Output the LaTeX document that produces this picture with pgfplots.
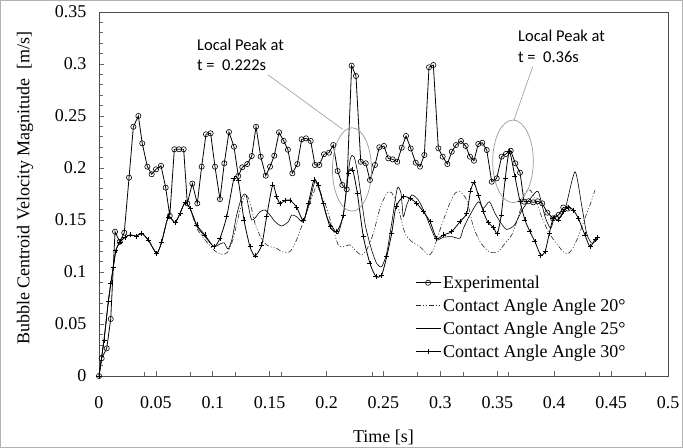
\documentclass[border=0pt]{standalone}
\usepackage{pgfplots}
\pgfplotsset{compat=1.18}
\usepackage{fontspec}
\setmainfont{Liberation Serif}
\newfontfamily\calibri{Carlito}
\usetikzlibrary{calc}

\pgfplotstableread{
t v
0 0
0.0023 0.017
0.0068 0.0266
0.0103 0.0548
0.0141 0.1388
0.0182 0.129
0.0222 0.1378
0.0264 0.1907
0.0302 0.2397
0.0346 0.25
0.038 0.2237
0.0425 0.2013
0.0463 0.194
0.0501 0.1987
0.0545 0.2022
0.0586 0.1811
0.0622 0.154
0.0662 0.218
0.0703 0.218
0.0744 0.218
0.0776 0.166
0.082 0.185
0.0864 0.166
0.0902 0.2013
0.094 0.2324
0.0981 0.2333
0.1019 0.2013
0.1063 0.170
0.1101 0.2045
0.1142 0.2346
0.1186 0.2205
0.1224 0.1923
0.1259 0.2007
0.1303 0.2038
0.1342 0.2115
0.138 0.2397
0.1421 0.2109
0.1465 0.1926
0.1503 0.2013
0.154 0.2118
0.1582 0.2343
0.1623 0.226
0.166 0.2176
0.1699 0.1949
0.1743 0.2038
0.1781 0.2276
0.1819 0.2285
0.186 0.226
0.1898 0.2029
0.1936 0.2029
0.1977 0.2132
0.2021 0.2147
0.2059 0.2221
0.2097 0.1971
0.2138 0.1837
0.2177 0.1795
0.222 0.2984
0.2258 0.2885
0.23 0.206
0.2344 0.2045
0.2381 0.1885
0.2425 0.2029
0.2463 0.2199
0.2504 0.2212
0.2542 0.2093
0.2581 0.2083
0.2621 0.206
0.266 0.2195
0.2698 0.2308
0.2739 0.2189
0.2783 0.2051
0.2821 0.2013
0.2859 0.2125
0.29 0.2968
0.2938 0.299
0.2982 0.2189
0.302 0.2109
0.3061 0.2038
0.31 0.2157
0.3137 0.2221
0.3181 0.226
0.3222 0.2212
0.326 0.2109
0.3295 0.207
0.3333 0.2231
0.3368 0.2243
0.3407 0.2173
0.3451 0.1868
0.3495 0.19
0.3538 0.2109
0.3576 0.2135
0.3618 0.2166
0.3658 0.2045
0.37 0.1955
0.3735 0.1676
0.3775 0.168
0.3815 0.167
0.3855 0.168
0.3895 0.166
0.394 0.157
0.399 0.1516
0.404 0.155
0.408 0.162
0.412 0.161
}\exptable

\pgfplotstableread{
t v
0 0
0.0044 0.0346
0.0082 0.0714
0.0126 0.105
0.0149 0.121
0.0185 0.129
0.0228 0.1333
0.0272 0.1356
0.0331 0.1346
0.0375 0.1372
0.0433 0.1308
0.0507 0.118
0.0551 0.129
0.0609 0.153
0.0668 0.1474
0.0712 0.1564
0.0756 0.1667
0.08 0.1612
0.0859 0.142
0.0931 0.131
0.101 0.121
0.1078 0.117
0.113 0.119
0.118 0.132
0.1235 0.158
0.1283 0.174
0.1325 0.168
0.1375 0.145
0.1444 0.129
0.1503 0.1243
0.1561 0.1228
0.1605 0.1196
0.1678 0.1196
0.1737 0.131
0.1796 0.1484
0.1854 0.166
0.1913 0.182
0.1986 0.166
0.2059 0.1404
0.2103 0.126
0.2147 0.1243
0.2206 0.126
0.2264 0.1196
0.2308 0.1163
0.2352 0.1212
0.2411 0.1372
0.2469 0.1612
0.2528 0.1757
0.2572 0.1763
0.263 0.1612
0.2689 0.1372
0.2748 0.1292
0.2821 0.1243
0.2894 0.1163
0.2938 0.1212
0.2996 0.1404
0.307 0.1628
0.3128 0.1757
0.3172 0.1772
0.3231 0.1692
0.3289 0.1436
0.3348 0.1292
0.3407 0.1212
0.3451 0.1186
0.3509 0.1196
0.3568 0.1276
0.3626 0.1356
0.3685 0.1532
0.3743 0.1757
0.3787 0.1788
0.3831 0.1708
0.389 0.1532
0.3948 0.1388
0.4007 0.1292
0.4066 0.1212
0.411 0.1173
0.4154 0.1212
0.4212 0.134
0.427 0.1516
0.4315 0.1644
0.4359 0.1788
}\angtwenty

\pgfplotstableread{
t v
0 0
0.0044 0.0346
0.0082 0.0714
0.0126 0.105
0.0149 0.121
0.0185 0.129
0.0228 0.1333
0.0272 0.1356
0.0331 0.1346
0.0375 0.1372
0.0433 0.1308
0.0507 0.118
0.0551 0.129
0.0609 0.153
0.0668 0.1474
0.0712 0.1564
0.0756 0.1667
0.08 0.1612
0.0859 0.144
0.0931 0.134
0.101 0.1243
0.1063 0.127
0.11 0.128
0.1135 0.122
0.117 0.132
0.121 0.155
0.1255 0.172
0.1292 0.174
0.1342 0.15
0.1415 0.158
0.1459 0.1596
0.1503 0.1548
0.1547 0.1484
0.1605 0.1442
0.1664 0.1484
0.1693 0.1548
0.1737 0.1532
0.1796 0.1484
0.1854 0.1692
0.1898 0.1868
0.1942 0.1772
0.2001 0.1532
0.2059 0.142
0.2103 0.1372
0.2153 0.1596
0.2206 0.2077
0.2241 0.2109
0.2279 0.1917
0.2337 0.1468
0.2396 0.1212
0.244 0.1083
0.2484 0.1051
0.2528 0.118
0.2572 0.1468
0.2621 0.1804
0.2654 0.1757
0.2674 0.1532
0.2704 0.1644
0.2748 0.174
0.2806 0.1692
0.2865 0.1564
0.2923 0.1404
0.2967 0.1308
0.3026 0.1334
0.3099 0.134
0.3172 0.1324
0.3202 0.142
0.326 0.1548
0.3333 0.1676
0.3377 0.1612
0.343 0.1676
0.348 0.1564
0.3524 0.1484
0.358 0.141
0.365 0.145
0.372 0.16
0.38 0.172
0.386 0.1772
0.392 0.153
0.397 0.142
0.4007 0.1548
0.405 0.152
0.41 0.162
0.4183 0.1964
0.424 0.165
0.4285 0.1372
0.433 0.1276
0.4375 0.131
}\angtwentyfive

\pgfplotstableread{
t v
0 0
0.0044 0.0346
0.0082 0.0714
0.0103 0.089
0.0126 0.105
0.0149 0.121
0.0185 0.129
0.0228 0.1333
0.0272 0.1356
0.0331 0.1346
0.0375 0.1372
0.0433 0.1308
0.0507 0.118
0.0551 0.129
0.0609 0.153
0.0668 0.1474
0.0712 0.1564
0.0756 0.1667
0.08 0.1612
0.0859 0.1452
0.0931 0.1356
0.101 0.1243
0.1063 0.1324
0.1122 0.1532
0.1186 0.19
0.1224 0.1878
0.1274 0.15
0.1327 0.1243
0.1371 0.1154
0.143 0.126
0.1473 0.1532
0.1526 0.1837
0.1561 0.1724
0.159 0.166
0.1634 0.1686
0.1678 0.1692
0.1737 0.1622
0.1796 0.1493
0.1839 0.166
0.1889 0.1885
0.1927 0.1837
0.1971 0.166
0.203 0.1436
0.2089 0.1388
0.2147 0.1548
0.2191 0.1949
0.2229 0.1981
0.227 0.1757
0.2323 0.1339
0.2381 0.1083
0.2434 0.0955
0.2484 0.0971
0.2528 0.1147
0.2572 0.1372
0.261 0.1628
0.2674 0.1724
0.2733 0.1708
0.2792 0.166
0.285 0.158
0.2909 0.1484
0.2967 0.1324
0.3026 0.1356
0.3099 0.1388
0.3172 0.1484
0.3231 0.1564
0.3265 0.178
0.3295 0.1859
0.3333 0.174
0.3377 0.158
0.342 0.1474
0.3465 0.143
0.35 0.137
0.3535 0.155
0.357 0.19
0.3606 0.2157
0.3655 0.1917
0.37 0.1676
0.3743 0.15
0.3787 0.1388
0.3831 0.1292
0.3881 0.1163
0.392 0.1196
0.3957 0.1372
0.3992 0.1516
0.4036 0.15
0.408 0.158
0.4124 0.1622
0.4168 0.1596
0.4212 0.1516
0.427 0.1356
0.4315 0.1243
0.4359 0.1314
0.4382 0.1334
}\angthirty

\begin{document}
\begin{tikzpicture}
\begin{axis}[
  scale only axis, width=569bp, height=364bp,
  xmin=0, xmax=0.5, ymin=0, ymax=0.35,
  xtick={0,0.05,0.1,0.15,0.2,0.25,0.3,0.35,0.4,0.45,0.5},
  xticklabels={0,0.05,0.1,0.15,0.2,0.25,0.3,0.35,0.4,0.45,0.5},
  minor xtick={0.04,0.08,0.12,0.16,0.2,0.24,0.28,0.32,0.36,0.4,0.44,0.48},
  ytick={0,0.05,0.1,0.15,0.2,0.25,0.3,0.35},
  yticklabels={0,0.05,0.1,0.15,0.2,0.25,0.3,0.35},
  minor y tick num=4,
  tick pos=left, tick align=inside,
  major tick length=5bp, minor tick length=4bp,
  tick style={black!60, line width=0.6pt},
  axis line style={black!70, line width=0.9pt},
  tick label style={font=\fontsize{18bp}{21bp}\selectfont},
  xticklabel style={yshift=-17bp},
  yticklabel style={xshift=-9bp},
  label style={font=\fontsize{18bp}{21bp}\selectfont},
  xlabel={Time [s]},
  ylabel={Bubble Centroid Velocity Magnitude\ \ [m/s]},
  x label style={at={(axis description cs:0.5,0)}, anchor=center, yshift=-61bp},
  y label style={at={(axis description cs:0,0.516)}, anchor=center, yshift=74bp},
  legend style={at={(axis cs:0.2777,0.0985)}, anchor=north west, draw=none,
    fill=none, inner sep=0pt, row sep=5bp,
    font=\fontsize{18bp}{21bp}\selectfont},
  legend cell align=left,
  legend image code/.code={\draw[mark repeat=2,mark phase=2]
    plot coordinates {(0bp,0bp)(12.5bp,0bp)(25bp,0bp)};},
]
\addplot[black, line width=0.8pt, mark=o, mark size=2.6bp,
  mark options={line width=0.6pt}] table {\exptable};
\addlegendentry{Experimental}
\addplot[black!85, line width=0.6pt, smooth, tension=0.4,
  dash pattern=on 5bp off 2bp on 1bp off 2bp on 1bp off 2bp] table {\angtwenty};
\addlegendentry{Contact Angle Angle 20°}
\addplot[black, line width=0.6pt, smooth, tension=0.4] table {\angtwentyfive};
\addlegendentry{Contact Angle Angle 25°}
\addplot[black, line width=0.8pt, smooth, tension=0.4, mark=+, mark size=2.5bp,
  mark options={line width=0.5pt}] table {\angthirty};
\addlegendentry{Contact Angle Angle 30°}

% callouts
\draw[black!40, line width=0.7pt] (axis cs:0.2223,0.1986) ellipse [x radius=19.5bp, y radius=41.7bp];
\draw[black!40, line width=0.7pt] (axis cs:0.3638,0.2064) ellipse [x radius=20.3bp, y radius=41.3bp];
\draw[black!40, line width=0.6pt] (axis cs:0.1487,0.2894) -- (axis cs:0.2141,0.2372);
\draw[black!40, line width=0.6pt] (axis cs:0.3811,0.2974) -- (axis cs:0.3647,0.2462);
\node[anchor=base west, inner sep=0pt, font=\calibri\fontsize{16.5bp}{20bp}\selectfont]
  at (axis cs:0.0861,0.3125) {Local Peak at};
\node[anchor=base west, inner sep=0pt, font=\calibri\fontsize{16.5bp}{20bp}\selectfont]
  at (axis cs:0.0861,0.2933) {t =\ \ 0.222s};
\node[anchor=base west, inner sep=0pt, font=\calibri\fontsize{16.5bp}{20bp}\selectfont]
  at (axis cs:0.3682,0.3214) {Local Peak at};
\node[anchor=base west, inner sep=0pt, font=\calibri\fontsize{16.5bp}{20bp}\selectfont]
  at (axis cs:0.3682,0.3019) {t =\ \ 0.36s};
\coordinate (O) at (rel axis cs:0,0);
\end{axis}
\draw[black!30, line width=1bp] ($(O)+(-98.5bp,-71.5bp)$) rectangle ($(O)+(583.5bp,375.5bp)$);
\end{tikzpicture}
\end{document}
